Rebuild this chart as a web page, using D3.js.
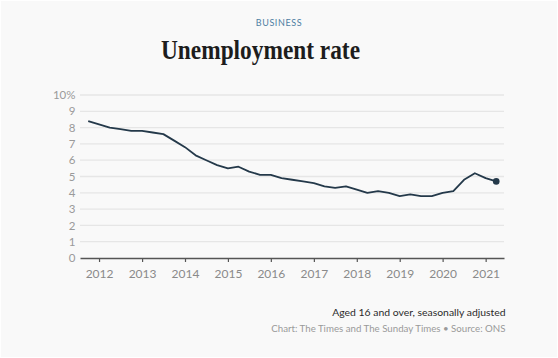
<!DOCTYPE html>
<html>
<head>
<meta charset="utf-8">
<script src="https://cdn.jsdelivr.net/npm/d3@7"></script>
<style>
  html, body { margin: 0; padding: 0; background: #fff; }
  svg { display: block; }
</style>
</head>
<body>
<div id="chart"></div>
<script>
// quarterly unemployment rate, %
var quarters = ["2011-10", "2012-01", "2012-04", "2012-07", "2012-10",
    "2013-01", "2013-04", "2013-07", "2013-10",
    "2014-01", "2014-04", "2014-07", "2014-10",
    "2015-01", "2015-04", "2015-07", "2015-10",
    "2016-01", "2016-04", "2016-07", "2016-10",
    "2017-01", "2017-04", "2017-07", "2017-10",
    "2018-01", "2018-04", "2018-07", "2018-10",
    "2019-01", "2019-04", "2019-07", "2019-10",
    "2020-01", "2020-04", "2020-07", "2020-10",
    "2021-01", "2021-04"];
var rates = [8.4, 8.2, 8.0, 7.9, 7.8,
    7.8, 7.7, 7.6, 7.2,
    6.8, 6.3, 6.0, 5.7,
    5.5, 5.6, 5.3, 5.1,
    5.1, 4.9, 4.8, 4.7,
    4.6, 4.4, 4.3, 4.4,
    4.2, 4.0, 4.1, 4.0,
    3.8, 3.9, 3.8, 3.8,
    4.0, 4.1, 4.8, 5.2,
    4.9, 4.7];
var yTicks = [0, 1, 2, 3, 4, 5, 6, 7, 8, 9, 10];
var xTickYears = [2012, 2013, 2014, 2015, 2016, 2017, 2018, 2019, 2020, 2021];

var W = 558, H = 358;
var sans = "'Lato', 'Open Sans', sans-serif";
var parse = d3.timeParse("%Y-%m");

var data = quarters.map(function (q, i) { return { date: parse(q), value: rates[i] }; });

var svg = d3.select("#chart").append("svg")
    .attr("width", W)
    .attr("height", H);

svg.append("rect")
    .attr("x", 1).attr("y", 1)
    .attr("width", W - 2).attr("height", H - 2)
    .attr("fill", "#f9f9f9");

// header
svg.append("text")
    .attr("x", 279).attr("y", 25.5)
    .attr("text-anchor", "middle")
    .style("font-family", sans)
    .style("font-size", "9px")
    .style("letter-spacing", "0.6px")
    .style("fill", "#4f7ea3")
    .text("BUSINESS");

svg.append("text")
    .attr("x", 260.5).attr("y", 59)
    .attr("text-anchor", "middle")
    .attr("textLength", 199)
    .attr("lengthAdjust", "spacingAndGlyphs")
    .style("font-family", "'Liberation Serif', serif")
    .style("font-weight", "bold")
    .style("font-size", "28px")
    .style("fill", "#1d1d1d")
    .text("Unemployment rate");

var x = d3.scaleTime()
    .domain([new Date(2011, 6, 23), new Date(2021, 5, 6)])
    .range([80, 504]);

var y = d3.scaleLinear()
    .domain([0, 10])
    .range([258, 95]);

// grid
svg.append("g").selectAll("line")
    .data(yTicks.filter(function (d) { return d > 0; }))
    .enter().append("line")
    .attr("x1", 80).attr("x2", 504)
    .attr("y1", function (d) { return y(d); })
    .attr("y2", function (d) { return y(d); })
    .attr("stroke", "#e6e6e6")
    .attr("stroke-width", 1.3);

// y labels
svg.append("g").selectAll("text")
    .data(yTicks)
    .enter().append("text")
    .attr("x", 75.5)
    .attr("y", function (d) { return y(d); })
    .attr("dy", "0.36em")
    .attr("text-anchor", "end")
    .style("font-family", sans)
    .style("font-size", "11.5px")
    .style("fill", "#9a9a9a")
    .text(function (d) { return d === 10 ? "10%" : d; });

// x axis
var xAxis = d3.axisBottom(x)
    .tickValues(xTickYears.map(function (yr) { return new Date(yr, 0, 1); }))
    .tickFormat(d3.timeFormat("%Y"))
    .tickSize(4)
    .tickSizeOuter(0)
    .tickPadding(7);

var gx = svg.append("g")
    .attr("transform", "translate(0," + y(0) + ")")
    .call(xAxis);
gx.select(".domain").attr("stroke", "#555").attr("stroke-width", 1.3);
gx.selectAll(".tick line").attr("stroke", "#555").attr("stroke-width", 1.2);
gx.selectAll(".tick text")
    .style("font-family", sans)
    .style("font-size", "12px")
    .style("fill", "#8a8a8a");

// line
var line = d3.line()
    .x(function (d) { return x(d.date); })
    .y(function (d) { return y(d.value); });

svg.append("path")
    .datum(data)
    .attr("d", line)
    .attr("fill", "none")
    .attr("stroke", "#24394a")
    .attr("stroke-width", 1.8)
    .attr("stroke-linejoin", "round");

var last = data[data.length - 1];
svg.append("circle")
    .attr("cx", x(last.date))
    .attr("cy", y(last.value))
    .attr("r", 3.3)
    .attr("fill", "#24394a");

// footer
svg.append("text")
    .attr("x", 505.5).attr("y", 316)
    .attr("text-anchor", "end")
    .style("font-family", sans)
    .style("font-size", "10.4px")
    .style("fill", "#2a2a2a")
    .text("Aged 16 and over, seasonally adjusted");

svg.append("text")
    .attr("x", 505.5).attr("y", 332)
    .attr("text-anchor", "end")
    .style("font-family", sans)
    .style("font-size", "9.7px")
    .style("fill", "#9a9a9a")
    .text("Chart: The Times and The Sunday Times \u2022 Source: ONS");
</script>
</body>
</html>
